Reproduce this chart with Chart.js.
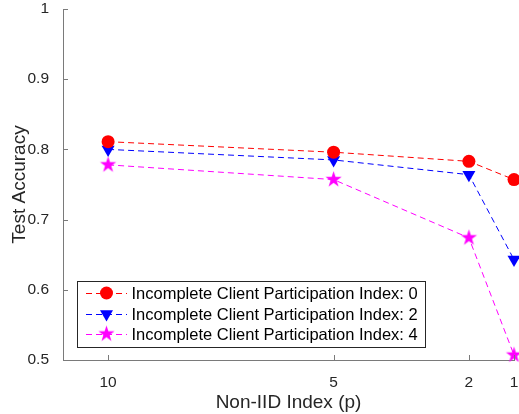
<!DOCTYPE html>
<html>
<head>
<meta charset="utf-8">
<script src="https://cdn.jsdelivr.net/npm/chart.js@4"></script>
<style>
  html, body { margin: 0; padding: 0; background: #fff; }
  #wrap { width: 519px; height: 414px; }
</style>
</head>
<body>
<div id="wrap"><canvas id="chart" width="519" height="414"></canvas></div>
<script>
// data
const nonIid = [10, 5, 2, 1];
const xTicks = [10, 5, 2, 1];
const yTicks = [0.5, 0.6, 0.7, 0.8, 0.9, 1];
const seriesNames = [
  "Incomplete Client Participation Index: 0",
  "Incomplete Client Participation Index: 2",
  "Incomplete Client Participation Index: 4"
];
const accIdx0 = [0.811, 0.796, 0.783, 0.757];
const accIdx2 = [0.800, 0.785, 0.764, 0.643];
const accIdx4 = [0.778, 0.757, 0.674, 0.507];

const FONT = "'Liberation Sans', Arial, Helvetica, sans-serif";
const axisColor = "#7a7a7a";
const textColor = "#262626";

// filled five point star, MATLAB "pentagram"
function makeStar(color, R) {
  const size = Math.ceil(R * 2 + 2);
  const c = document.createElement("canvas");
  c.width = size;
  c.height = size;
  const g = c.getContext("2d");
  const cx = size / 2, cy = size / 2, r = R * 0.382;
  g.beginPath();
  for (let i = 0; i < 10; i++) {
    const rad = i % 2 === 0 ? R : r;
    const a = -Math.PI / 2 + i * Math.PI / 5;
    const px = cx + rad * Math.cos(a);
    const py = cy + rad * Math.sin(a);
    if (i === 0) g.moveTo(px, py); else g.lineTo(px, py);
  }
  g.closePath();
  g.fillStyle = color;
  g.fill();
  return c;
}

const starImg = makeStar("#ff00ff", 8.5);

function toPoints(vals) {
  return nonIid.map((x, i) => ({ x: x, y: vals[i] }));
}

const common = {
  borderWidth: 1,
  borderDash: [6, 4],
  pointBorderWidth: 0,
  tension: 0,
  clip: false,
  fill: false
};

const datasets = [
  Object.assign({}, common, {
    label: seriesNames[0], data: toPoints(accIdx0),
    borderColor: "#ff0000", backgroundColor: "#ff0000",
    pointBackgroundColor: "#ff0000", pointBorderColor: "#ff0000",
    pointStyle: "circle", pointRadius: 6.5, pointRotation: 0
  }),
  Object.assign({}, common, {
    label: seriesNames[1], data: toPoints(accIdx2),
    borderColor: "#0000ff", backgroundColor: "#0000ff",
    pointBackgroundColor: "#0000ff", pointBorderColor: "#0000ff",
    pointStyle: "triangle", pointRadius: 7.5, pointRotation: 180
  }),
  Object.assign({}, common, {
    label: seriesNames[2], data: toPoints(accIdx4),
    borderColor: "#ff00ff", backgroundColor: "#ff00ff",
    pointBackgroundColor: "#ff00ff", pointBorderColor: "#ff00ff",
    pointStyle: starImg, pointRadius: 8.5, pointRotation: 0
  })
];

// inward tick marks + boxed legend like the MATLAB figure
const matlabBits = {
  id: "matlabBits",
  afterDraw(chart) {
    const ctx = chart.ctx;
    const xs = chart.scales.x, ys = chart.scales.y;
    const area = chart.chartArea;
    ctx.save();
    ctx.strokeStyle = axisColor;
    ctx.lineWidth = 1;
    xTicks.forEach(v => {
      const px = Math.round(xs.getPixelForValue(v)) + 0.5;
      ctx.beginPath();
      ctx.moveTo(px, area.bottom);
      ctx.lineTo(px, area.bottom - 5);
      ctx.stroke();
    });
    yTicks.forEach(v => {
      const py = Math.round(ys.getPixelForValue(v)) + 0.5;
      ctx.beginPath();
      ctx.moveTo(area.left, py);
      ctx.lineTo(area.left + 5, py);
      ctx.stroke();
    });

    // legend
    const box = { left: 77.5, top: 281.5, right: 425.5, bottom: 347.5 };
    ctx.fillStyle = "#fff";
    ctx.fillRect(box.left, box.top, box.right - box.left, box.bottom - box.top);
    ctx.strokeStyle = "#262626";
    ctx.strokeRect(box.left, box.top, box.right - box.left, box.bottom - box.top);
    const rowY = [293, 314, 334];
    chart.data.datasets.forEach((ds, i) => {
      const y = rowY[i];
      ctx.save();
      ctx.strokeStyle = ds.borderColor;
      ctx.lineWidth = 1;
      ctx.setLineDash(ds.borderDash);
      ctx.beginPath();
      ctx.moveTo(86, y + 0.5);
      ctx.lineTo(127, y + 0.5);
      ctx.stroke();
      ctx.setLineDash([]);
      ctx.fillStyle = ds.pointBackgroundColor;
      ctx.strokeStyle = ds.pointBorderColor;
      Chart.helpers.drawPoint(ctx, {
        pointStyle: ds.pointStyle,
        rotation: ds.pointRotation,
        radius: ds.pointRadius,
        borderWidth: 0
      }, 106.5, y);
      ctx.restore();
      ctx.fillStyle = "#000";
      ctx.font = "16.5px " + FONT;
      ctx.textAlign = "left";
      ctx.textBaseline = "middle";
      ctx.fillText(ds.label, 131.5, y + 1);
    });
    ctx.restore();
  }
};

new Chart(document.getElementById("chart"), {
  type: "line",
  data: { datasets: datasets },
  options: {
    responsive: false,
    animation: false,
    maintainAspectRatio: false,
    layout: { autoPadding: false, padding: { top: 9, right: 5, left: 0, bottom: 0 } },
    plugins: {
      legend: { display: false },
      tooltip: { enabled: false }
    },
    scales: {
      x: {
        type: "linear",
        reverse: true,
        min: 1,
        max: 11,
        afterBuildTicks: s => { s.ticks = xTicks.map(v => ({ value: v })); },
        afterFit: s => {
          s.height = 54;
          s.paddingLeft = 0;
          s.paddingRight = 0;
        },
        grid: { display: false },
        border: { display: true, color: axisColor, width: 1 },
        ticks: {
          color: textColor,
          font: { family: FONT, size: 15.5 },
          padding: 5,
          maxRotation: 0,
          autoSkip: false,
          callback: v => String(v)
        },
        title: {
          display: true,
          text: "Non-IID Index (p)",
          color: textColor,
          font: { family: FONT, size: 19 },
          padding: { top: 0, bottom: 0 }
        }
      },
      y: {
        type: "linear",
        min: 0.5,
        max: 1,
        afterBuildTicks: s => { s.ticks = yTicks.map(v => ({ value: v })); },
        afterFit: s => {
          s.width = 63;
          s.paddingTop = 0;
          s.paddingBottom = 0;
        },
        grid: { display: false },
        border: { display: true, color: axisColor, width: 1 },
        ticks: {
          color: textColor,
          font: { family: FONT, size: 15.5 },
          padding: 6,
          autoSkip: false,
          callback: v => (v === 1 ? "1" : v.toFixed(1))
        },
        title: {
          display: true,
          text: "Test Accuracy",
          color: textColor,
          font: { family: FONT, size: 19 },
          padding: { top: 8, bottom: 0 }
        }
      }
    }
  },
  plugins: [matlabBits]
});
</script>
</body>
</html>
